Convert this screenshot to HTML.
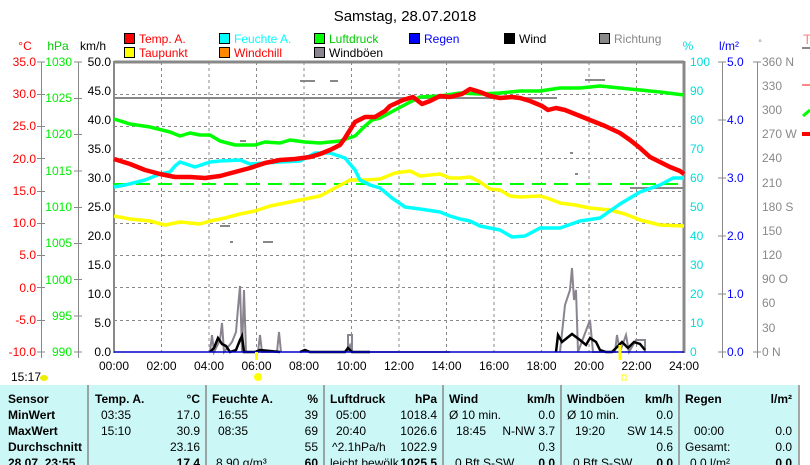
<!DOCTYPE html>
<html><head><meta charset="utf-8"><style>
html,body{margin:0;padding:0;background:#fff;width:810px;height:465px;overflow:hidden}
svg{display:block;font-family:"Liberation Sans",Arial,sans-serif}
</style></head><body>
<svg width="810" height="465" viewBox="0 0 810 465">
<text x="405" y="21" font-size="15" text-anchor="middle">Samstag, 28.07.2018</text>
<g font-size="12">
<rect x="124.5" y="33.5" width="10" height="10" fill="#f00" stroke="#000"/><text x="139" y="43" fill="#f00">Temp. A.</text>
<rect x="219.5" y="33.5" width="10" height="10" fill="#0ff" stroke="#000"/><text x="234" y="43" fill="#0ff">Feuchte A.</text>
<rect x="314.5" y="33.5" width="10" height="10" fill="#0f0" stroke="#000"/><text x="329" y="43" fill="#0c0">Luftdruck</text>
<rect x="409.5" y="33.5" width="10" height="10" fill="#00f" stroke="#000"/><text x="424" y="43" fill="#00f">Regen</text>
<rect x="504.5" y="33.5" width="10" height="10" fill="#000" stroke="#000"/><text x="519" y="43">Wind</text>
<rect x="599.5" y="33.5" width="10" height="10" fill="#888" stroke="#000"/><text x="614" y="43" fill="#888">Richtung</text>
<rect x="124.5" y="47.5" width="10" height="10" fill="#ff0" stroke="#000"/><text x="139" y="57" fill="#f00">Taupunkt</text>
<rect x="219.5" y="47.5" width="10" height="10" fill="#f80" stroke="#000"/><text x="234" y="57" fill="#f00">Windchill</text>
<rect x="314.5" y="47.5" width="10" height="10" fill="#8a8490" stroke="#000"/><text x="329" y="57">Windböen</text>
<text x="25" y="50" fill="#f00" text-anchor="middle">°C</text>
<text x="58" y="50" fill="#0c0" text-anchor="middle">hPa</text>
<text x="93" y="50" text-anchor="middle">km/h</text>
<text x="688" y="50" fill="#0dd" text-anchor="middle">%</text>
<text x="729" y="50" fill="#00f" text-anchor="middle">l/m²</text>
<text x="760" y="46" fill="#888" text-anchor="middle" font-size="9">°</text>
</g>
<g stroke="#888" stroke-dasharray="3,3" stroke-width="1">
<line x1="161.5" y1="62" x2="161.5" y2="352"/><line x1="209" y1="62" x2="209" y2="352"/><line x1="256.5" y1="62" x2="256.5" y2="352"/><line x1="304" y1="62" x2="304" y2="352"/><line x1="351.5" y1="62" x2="351.5" y2="352"/><line x1="399" y1="62" x2="399" y2="352"/><line x1="446.5" y1="62" x2="446.5" y2="352"/><line x1="494" y1="62" x2="494" y2="352"/><line x1="541.5" y1="62" x2="541.5" y2="352"/><line x1="589" y1="62" x2="589" y2="352"/><line x1="636.5" y1="62" x2="636.5" y2="352"/>
<line x1="114" y1="94.5" x2="684" y2="94.5"/><line x1="114" y1="126.5" x2="684" y2="126.5"/><line x1="114" y1="158.5" x2="684" y2="158.5"/><line x1="114" y1="191.5" x2="684" y2="191.5"/><line x1="114" y1="223.5" x2="684" y2="223.5"/><line x1="114" y1="255.5" x2="684" y2="255.5"/><line x1="114" y1="287.5" x2="684" y2="287.5"/><line x1="114" y1="320.5" x2="684" y2="320.5"/>
</g>
<g stroke="#888" stroke-width="2" fill="none">
<line x1="114" y1="62" x2="684" y2="62" stroke-width="3"/>
<line x1="114" y1="61" x2="114" y2="353"/>
<line x1="684" y1="61" x2="684" y2="353" stroke-width="3"/>
</g>
<g stroke="#888" stroke-width="1">
<line x1="41.5" y1="62" x2="41.5" y2="358"/><line x1="78.5" y1="62" x2="78.5" y2="358"/>
<line x1="722.5" y1="62" x2="722.5" y2="358"/><line x1="757.5" y1="62" x2="757.5" y2="358"/>
</g>
<g font-size="12" fill="#f00" text-anchor="end">
<text x="36" y="66">35.0</text><text x="36" y="98">30.0</text><text x="36" y="130">25.0</text><text x="36" y="163">20.0</text><text x="36" y="195">15.0</text><text x="36" y="227">10.0</text><text x="36" y="259">5.0</text><text x="36" y="292">0.0</text><text x="36" y="324">-5.0</text><text x="36" y="356">-10.0</text>
</g>
<g stroke="#888"><line x1="37" y1="62" x2="45" y2="62"/><line x1="37" y1="94.5" x2="45" y2="94.5"/><line x1="37" y1="126.5" x2="45" y2="126.5"/><line x1="37" y1="158.5" x2="45" y2="158.5"/><line x1="37" y1="191.5" x2="45" y2="191.5"/><line x1="37" y1="223.5" x2="45" y2="223.5"/><line x1="37" y1="255.5" x2="45" y2="255.5"/><line x1="37" y1="287.5" x2="45" y2="287.5"/><line x1="37" y1="320.5" x2="45" y2="320.5"/><line x1="37" y1="352" x2="45" y2="352"/>
<line x1="74" y1="62" x2="82" y2="62"/><line x1="74" y1="98.5" x2="82" y2="98.5"/><line x1="74" y1="134.5" x2="82" y2="134.5"/><line x1="74" y1="171" x2="82" y2="171"/><line x1="74" y1="207.5" x2="82" y2="207.5"/><line x1="74" y1="243.5" x2="82" y2="243.5"/><line x1="74" y1="279.5" x2="82" y2="279.5"/><line x1="74" y1="316" x2="82" y2="316"/><line x1="74" y1="352" x2="82" y2="352"/>
<line x1="718" y1="62" x2="726" y2="62"/><line x1="718" y1="120" x2="726" y2="120"/><line x1="718" y1="178" x2="726" y2="178"/><line x1="718" y1="236" x2="726" y2="236"/><line x1="718" y1="294" x2="726" y2="294"/><line x1="718" y1="352" x2="726" y2="352"/>
<line x1="753" y1="62" x2="761" y2="62"/><line x1="753" y1="352" x2="761" y2="352"/>
</g>
<g font-size="12" fill="#0e0" text-anchor="end">
<text x="72" y="66">1030</text><text x="72" y="102">1025</text><text x="72" y="138">1020</text><text x="72" y="175">1015</text><text x="72" y="211">1010</text><text x="72" y="247">1005</text><text x="72" y="284">1000</text><text x="72" y="320">995</text><text x="72" y="356">990</text>
</g>
<g font-size="12" text-anchor="end">
<text x="111" y="66">50.0</text><text x="111" y="95">45.0</text><text x="111" y="124">40.0</text><text x="111" y="153">35.0</text><text x="111" y="182">30.0</text><text x="111" y="211">25.0</text><text x="111" y="240">20.0</text><text x="111" y="269">15.0</text><text x="111" y="298">10.0</text><text x="111" y="327">5.0</text><text x="111" y="356">0.0</text>
</g>
<g font-size="12" fill="#0dd">
<text x="690" y="66">100</text><text x="690" y="95">90</text><text x="690" y="124">80</text><text x="690" y="153">70</text><text x="690" y="182">60</text><text x="690" y="211">50</text><text x="690" y="240">40</text><text x="690" y="269">30</text><text x="690" y="298">20</text><text x="690" y="327">10</text><text x="690" y="356">0</text>
</g>
<g font-size="12" fill="#00f">
<text x="727" y="66">5.0</text><text x="727" y="124">4.0</text><text x="727" y="182">3.0</text><text x="727" y="240">2.0</text><text x="727" y="298">1.0</text><text x="727" y="356">0.0</text>
</g>
<g font-size="12" fill="#888">
<text x="762" y="66">360 N</text><text x="762" y="90">330</text><text x="762" y="114">300</text><text x="762" y="138">270 W</text><text x="762" y="162">240</text><text x="762" y="187">210</text><text x="762" y="211">180 S</text><text x="762" y="235">150</text><text x="762" y="259">120</text><text x="762" y="283">90  O</text><text x="762" y="307">60</text><text x="762" y="332">30</text><text x="762" y="356">0   N</text>
</g>
<line x1="114" y1="98" x2="557" y2="98" stroke="#888" stroke-width="2"/>
<line x1="630" y1="188" x2="684" y2="188" stroke="#888" stroke-width="2"/>
<g fill="#888"><rect x="300" y="80" width="15" height="2"/><rect x="330" y="80" width="8" height="2"/><rect x="283" y="97" width="8" height="2"/><rect x="220" y="225" width="10" height="2"/><rect x="263" y="241" width="10" height="2"/><rect x="240" y="140" width="6" height="2"/><rect x="585" y="79" width="20" height="2"/><rect x="570" y="152" width="3" height="2"/><rect x="575" y="173" width="3" height="2"/><rect x="230" y="241" width="3" height="2"/></g>
<line x1="114" y1="184" x2="684" y2="184" stroke="#0f0" stroke-width="2" stroke-dasharray="14,8"/>
<g fill="none" stroke-width="3.5" stroke-linejoin="round">
<polyline stroke="#ff0" points="114,216 130,219 150,221 165,225 180,222 200,224 210,221 225,218 240,214 255,211 270,206 285,203 300,200 320,196 335,188 350,180 365,180 380,179 395,173 410,171 420,176 440,174 450,178 460,178 470,177 480,182 490,189 500,190 510,196 520,197 540,196 550,199 560,203 575,205 590,208 610,210 625,214 640,220 660,225 684,226"/>
<polyline stroke="#0ff" points="114,187 125,185 145,180 160,174 170,172 175,166 180,162 195,167 210,162 220,161 240,160 250,164 265,163 280,162 300,161 315,153 330,153 345,158 355,170 360,180 370,185 380,188 392,198 405,207 420,209 440,212 450,216 460,219 470,221 480,226 500,230 512,237 525,236 540,228 560,228 580,221 600,218 620,204 640,192 660,185 673,178 684,178"/>
<polyline stroke="#0f0" points="114,119 130,124 150,127 170,132 180,136 190,133 200,135 210,135 220,141 235,145 255,145 265,142 280,143 290,140 305,142 320,143 340,141 355,136 365,126 372,120 380,118 395,110 410,102 420,97 440,96 460,93 480,94 500,93 520,91 540,91 560,88 580,88 600,86 620,88 640,90 660,92 684,95"/>
<polyline stroke="#f00" stroke-width="4.5" points="114,159 130,164 145,170 160,174 175,177 190,177 205,178 220,176 235,172 250,168 265,163 280,160 295,159 310,157 320,154 330,150 340,145 345,138 350,130 355,122 365,117 375,117 385,111 390,106 403,100 413,97 422,104 430,101 440,96 450,97 462,94 470,89 480,92 490,96 500,98 512,97 520,98 530,101 542,106 548,110 556,108 565,110 575,114 590,120 605,126 620,133 630,140 640,148 650,157 660,162 670,167 680,171 684,174"/>
</g>
<g fill="none" stroke="#8a8490" stroke-width="2">
<polyline points="210,352 212,335 214,352 220,340 222,323 224,352 232,342 236,332 238,308 240,286 242,352 244,290 246,352 258,352 260,335 262,352 277,352 279,332 281,352"/>
<polyline points="346,352 350,345 352,352 450,352"/>
<polyline points="560,352 565,305 570,290 572,268 574,300 576,290 578,352 590,320 593,352 600,352 615,352 617,335 620,352 626,335 629,352 636,340 645,340 645,352"/>
<polyline points="348,352 348,335 352,335 352,352"/>
</g>
<g fill="none" stroke="#000" stroke-width="2.5">
<polyline points="210,352 214,348 218,338 222,344 226,346 230,352 236,350 240,340 242,336 244,352 255,352 260,350 270,351 280,352"/>
<polyline points="300,352 305,350 310,352 345,352 348,348 352,352 370,352"/>
<polyline points="556,352 558,335 562,342 572,334 580,340 586,345 590,338 596,342 600,350 606,352 612,352 618,346 622,342 628,348 634,342 640,344 645,350"/>
</g>
<line x1="114" y1="352" x2="684" y2="352" stroke="#00c" stroke-width="1.5"/>
<line x1="256.5" y1="352" x2="256.5" y2="360" stroke="#ff0" stroke-width="3"/>
<line x1="620" y1="345" x2="620" y2="360" stroke="#ff0" stroke-width="3"/>
<g font-size="12" text-anchor="middle">
<text x="114" y="370">00:00</text><text x="161.5" y="370">02:00</text><text x="209" y="370">04:00</text><text x="256.5" y="370">06:00</text><text x="304" y="370">08:00</text><text x="351.5" y="370">10:00</text><text x="399" y="370">12:00</text><text x="446.5" y="370">14:00</text><text x="494" y="370">16:00</text><text x="541.5" y="370">18:00</text><text x="589" y="370">20:00</text><text x="636.5" y="370">22:00</text><text x="684" y="370">24:00</text>
</g>
<text x="11" y="381" font-size="12">15:17</text>
<ellipse cx="44" cy="378" rx="4" ry="3" fill="#ee0"/>
<circle cx="258" cy="377" r="4" fill="#ff0"/>
<rect x="622" y="375" width="4" height="5" fill="none" stroke="#ff0"/>
<rect x="0" y="385" width="798" height="80" fill="#ccf7f7"/>
<g stroke="#888" stroke-width="1.5"><line x1="88" y1="385" x2="88" y2="465"/><line x1="206" y1="385" x2="206" y2="465"/><line x1="324" y1="385" x2="324" y2="465"/><line x1="443" y1="385" x2="443" y2="465"/><line x1="561" y1="385" x2="561" y2="465"/><line x1="679" y1="385" x2="679" y2="465"/><line x1="799" y1="385" x2="799" y2="465"/></g>
<g font-size="12">
<g font-weight="bold"><text x="8" y="403">Sensor</text><text x="8" y="419">MinWert</text><text x="8" y="435">MaxWert</text><text x="8" y="451">Durchschnitt</text><text x="8" y="467">28.07. 23:55</text>
<text x="95" y="403">Temp. A.</text><text x="212" y="403">Feuchte A.</text><text x="330" y="403">Luftdruck</text><text x="449" y="403">Wind</text><text x="567" y="403">Windböen</text><text x="685" y="403">Regen</text></g>
<g font-weight="bold" text-anchor="end"><text x="200" y="403">°C</text><text x="318" y="403">%</text><text x="437" y="403">hPa</text><text x="555" y="403">km/h</text><text x="673" y="403">km/h</text><text x="792" y="403">l/m²</text>
<text x="200" y="467">17.4</text><text x="318" y="467">60</text><text x="437" y="467">1025.5</text><text x="555" y="467">0.0</text><text x="673" y="467">0.0</text><text x="792" y="467">0.0</text></g>
<text x="101" y="419">03:35</text><text x="101" y="435">15:10</text>
<text x="218" y="419">16:55</text><text x="218" y="435">08:35</text><text x="216" y="467">8.90 g/m³</text>
<text x="336" y="419">05:00</text><text x="336" y="435">20:40</text><text x="332" y="451">^2.1hPa/h</text><text x="330" y="467">leicht bewölk</text>
<text x="449" y="419">Ø 10 min.</text><text x="456" y="435">18:45</text><text x="455" y="467">0 Bft S-SW</text>
<text x="567" y="419">Ø 10 min.</text><text x="575" y="435">19:20</text><text x="573" y="467">0 Bft S-SW</text>
<text x="694" y="435">00:00</text><text x="685" y="451">Gesamt:</text><text x="690" y="467">0.0 l/m²</text>
<g text-anchor="end">
<text x="200" y="419">17.0</text><text x="200" y="435">30.9</text><text x="200" y="451">23.16</text>
<text x="318" y="419">39</text><text x="318" y="435">69</text><text x="318" y="451">55</text>
<text x="437" y="419">1018.4</text><text x="437" y="435">1026.6</text><text x="437" y="451">1022.9</text>
<text x="555" y="419">0.0</text><text x="555" y="435">N-NW 3.7</text><text x="555" y="451">0.3</text>
<text x="673" y="419">0.0</text><text x="673" y="435">SW 14.5</text><text x="673" y="451">0.6</text>
<text x="792" y="435">0.0</text><text x="792" y="451">0.0</text>
</g>
</g>
<text x="803" y="44" font-size="14" fill="#f88">T</text>
<rect x="802" y="47" width="8" height="2" fill="#888"/>
<rect x="802" y="84" width="8" height="2" fill="#f88"/>
<path d="M803 116 L810 110" stroke="#0f0" stroke-width="3"/>
<rect x="802" y="132" width="8" height="4" fill="#f00"/>
</svg>
</body></html>
